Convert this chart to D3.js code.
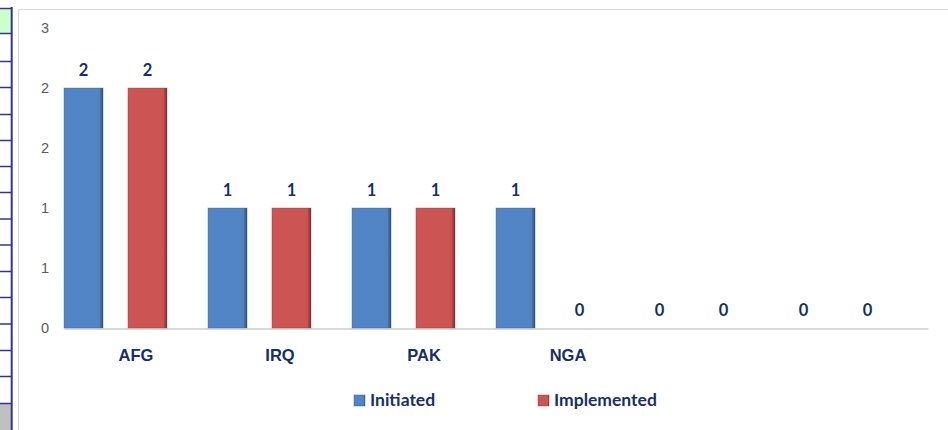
<!DOCTYPE html>
<html>
<head>
<meta charset="utf-8">
<script src="https://cdn.jsdelivr.net/npm/d3@7"></script>
<style>
	html, body { margin: 0; background: #fff; overflow: hidden; }
	#chart-area svg { display: block; }
</style>
</head>
<body>
<div id="chart-area"></div>
<script>

// DATA //
var categories = ["AFG", "IRQ", "PAK", "NGA", "", ""];
var initiated = [2, 1, 1, 1, 0, 0];
var implemented = [2, 1, 1, 0, 0, 0];
var seriesNames = ["Initiated", "Implemented"];
var seriesColors = ["#5285c6", "#cc5553"];
var seriesDark = ["#2f4f7a", "#7d2f2d"];
var yTicks = [0, 0.5, 1, 1.5, 2, 2.5];

// spreadsheet row lines on the left edge
var sheetRows = [8.5, 33.5, 61.5, 87.5, 114.5, 140.5, 166.5, 192.5, 219, 245, 271.5, 297.5, 324, 350.5, 376.5, 403.5];


/*
 *  BarChart - Object constructor function
 *  @param _parentElement   -- HTML element in which to draw the visualization
 */

BarChart = function(_parentElement) {

	this.parentElement = _parentElement;

	this.initVis();
}


/*
 *  Initialize chart
 */

BarChart.prototype.initVis = function() {
	var vis = this;

	vis.width = 948;
	vis.height = 430;

	vis.svg = d3.select("#" + vis.parentElement).append("svg")
		.attr("width", vis.width)
		.attr("height", vis.height)
		.style("font-family", "Lato, 'Open Sans', sans-serif");

	// SPREADSHEET STRIP //
	vis.svg.append("rect")
		.attr("x", 0).attr("y", 9)
		.attr("width", 11).attr("height", 24)
		.attr("fill", "#ccffcc");
	vis.svg.append("rect")
		.attr("x", 0).attr("y", 404)
		.attr("width", 11).attr("height", 26)
		.attr("fill", "#c0c0c0");
	vis.svg.selectAll(".sheet-row")
		.data(sheetRows)
		.enter().append("line")
		.attr("class", "sheet-row")
		.attr("x1", 0).attr("x2", 12)
		.attr("y1", function(d) { return d; })
		.attr("y2", function(d) { return d; })
		.attr("stroke", "#333399")
		.attr("stroke-width", 1.5);
	vis.svg.append("line")
		.attr("x1", 11.7).attr("x2", 11.7)
		.attr("y1", 7).attr("y2", 430)
		.attr("stroke", "#333399")
		.attr("stroke-width", 2);

	// chart frame: only the top and left edges are in view
	vis.svg.append("path")
		.attr("d", "M18.5,430V9.5H948")
		.attr("fill", "none")
		.attr("stroke", "#d9d9d9")
		.attr("stroke-width", 1.2);

	// SCALES //
	vis.x = d3.scaleBand()
		.domain(d3.range(categories.length))
		.range([64, 928]);

	vis.xSeries = d3.scaleBand()
		.domain(d3.range(seriesNames.length))
		.range([0, 103])
		.paddingInner(0.39);

	vis.y = d3.scaleLinear()
		.domain([0, 2.5])
		.range([328, 28]);

	// gradients for the bevelled bars
	var defs = vis.svg.append("defs");
	seriesNames.forEach(function(s, i) {
		var g = defs.append("linearGradient")
			.attr("id", "grad" + i)
			.attr("x1", "0%").attr("x2", "100%")
			.attr("y1", "0%").attr("y2", "0%");
		g.append("stop").attr("offset", "0%").attr("stop-color", seriesColors[i]);
		g.append("stop").attr("offset", "90%").attr("stop-color", seriesColors[i]);
		g.append("stop").attr("offset", "100%").attr("stop-color", seriesDark[i]);
	});

	vis.updateVis();
}


/*
 *  The drawing function
 */

BarChart.prototype.updateVis = function() {
	var vis = this;

	var navy = "#172f68";

	// Y AXIS (labels only) //
	var yAxis = d3.axisLeft(vis.y)
		.tickValues(yTicks)
		.tickSize(0)
		.tickPadding(0)
		.tickFormat(function(d) { return Math.round(d); });

	var yG = vis.svg.append("g")
		.attr("transform", "translate(49,0)")
		.call(yAxis);
	yG.select(".domain").remove();
	yG.selectAll("text")
		.attr("fill", "#595959")
		.style("font-size", "14.5px");

	// X AXIS //
	var xAxis = d3.axisBottom(vis.x)
		.tickSize(0)
		.tickPadding(21)
		.tickFormat(function(i) { return categories[i]; });

	var xG = vis.svg.append("g")
		.attr("transform", "translate(0,328.5)")
		.call(xAxis);
	xG.select(".domain")
		.attr("stroke", "#d9d9d9")
		.attr("stroke-width", 2);
	xG.selectAll("text")
		.attr("fill", navy)
		.style("font-size", "16.5px")
		.style("font-weight", "bold");

	// BARS //
	var allSeries = [initiated, implemented];

	allSeries.forEach(function(values, s) {
		var g = vis.svg.append("g").attr("class", "series-" + s);

		var bars = g.selectAll(".bar")
			.data(values)
			.enter();

		bars.append("rect")
			.attr("class", "bar")
			.attr("x", function(d, i) { return vis.x(i) + vis.xSeries(s); })
			.attr("y", function(d) { return vis.y(d); })
			.attr("width", vis.xSeries.bandwidth())
			.attr("height", function(d) { return vis.y(0) - vis.y(d); })
			.attr("fill", "url(#grad" + s + ")")
			.attr("stroke", function(d) { return d > 0 ? seriesDark[s] : "none"; })
			.attr("stroke-opacity", 0.35)
			.attr("stroke-width", 1);

		bars.append("text")
			.attr("class", "bar-label")
			.attr("x", function(d, i) { return vis.x(i) + vis.xSeries(s) + vis.xSeries.bandwidth() / 2; })
			.attr("y", function(d) { return vis.y(d) - 12; })
			.attr("text-anchor", "middle")
			.attr("fill", navy)
			.style("font-size", "16.5px")
			.style("font-weight", "bold")
			.text(function(d) { return d; });
	});

	// LEGEND //
	var legendX = [354, 538];

	var legend = vis.svg.selectAll(".legend")
		.data(seriesNames)
		.enter().append("g")
		.attr("class", "legend")
		.attr("transform", function(d, i) { return "translate(" + legendX[i] + ",395)"; });

	legend.append("rect")
		.attr("width", 11)
		.attr("height", 11)
		.attr("fill", function(d, i) { return "url(#grad" + i + ")"; })
		.attr("stroke", function(d, i) { return seriesDark[i]; })
		.attr("stroke-opacity", 0.4);

	legend.append("text")
		.attr("x", 16)
		.attr("y", 11)
		.attr("fill", navy)
		.style("font-size", "17.5px")
		.style("font-weight", "bold")
		.text(function(d) { return d; });
}


var chart = new BarChart("chart-area");

</script>
</body>
</html>
